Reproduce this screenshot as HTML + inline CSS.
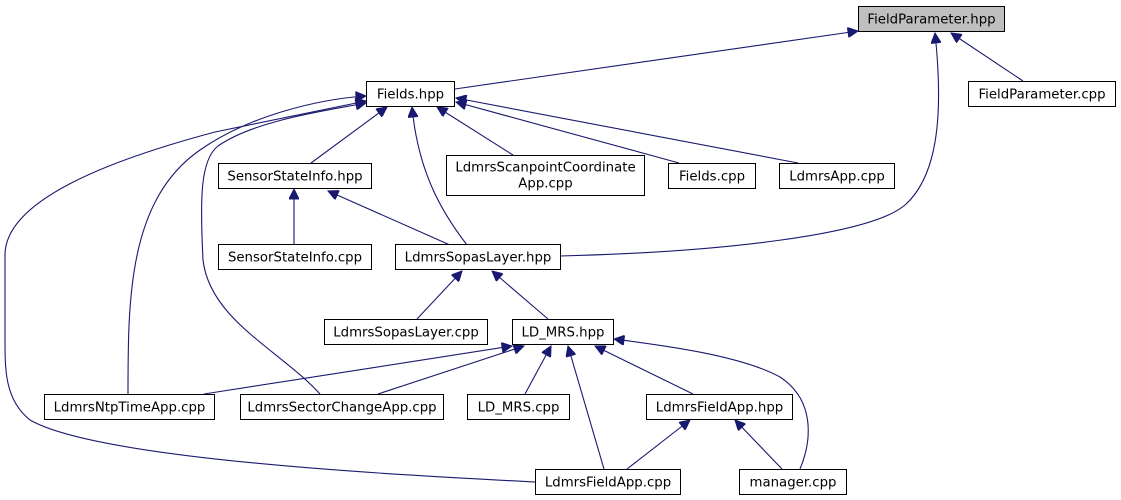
<!DOCTYPE html>
<html><head><meta charset="utf-8"><style>
html,body{margin:0;padding:0;background:#fff;}
svg{display:block;}
text{font-family:"DejaVu Sans","Liberation Sans",sans-serif;font-size:13.3px;fill:#000;}
rect{stroke:#000;stroke-width:1;}
path.e{fill:none;stroke:#191970;stroke-width:1.1;}
</style></head><body>
<svg width="1121" height="500" viewBox="0 0 1121 500" xmlns="http://www.w3.org/2000/svg">
<defs>
<marker id="a" viewBox="0 0 10 10" refX="10" refY="5" markerWidth="12" markerHeight="10" markerUnits="userSpaceOnUse" orient="auto">
<path d="M0,0 L10,5 L0,10 z" fill="#191970" stroke="#191970"/>
</marker>
</defs>
<g marker-end="url(#a)">
<path class="e" d="M455,89 L858,31"/>
<path class="e" d="M1023,81 L951,33"/>
<path class="e" d="M560,256 C720,252 870,235 905,205 C942,172 942,100 935,33"/>
<path class="e" d="M311,163 L387,107"/>
<path class="e" d="M513,155 L437,107"/>
<path class="e" d="M679,163 L456,102"/>
<path class="e" d="M798,163 L456,98"/>
<path class="e" d="M467,245 C440,210 418,170 412,107"/>
<path class="e" d="M294,245 L294,189"/>
<path class="e" d="M450,245 L328,191"/>
<path class="e" d="M417,319 L462,271"/>
<path class="e" d="M548,319 L492,271"/>
<path class="e" d="M128,394 C128,300 128,200 200,150 C250,115 320,99 366,96"/>
<path class="e" d="M320,394 C280,350 210,320 203,260 C200,200 200,160 218,146 C255,120 330,110 366,103"/>
<path class="e" d="M535,482 C400,475 100,460 30,420 C5,400 5,370 5,340 L5,255 C5,200 110,160 215,132 L366,101"/>
<path class="e" d="M204,394 L512,346"/>
<path class="e" d="M378,394 L524,346"/>
<path class="e" d="M525,394 L551,346"/>
<path class="e" d="M604,469 L568,346"/>
<path class="e" d="M693,394 L595,346"/>
<path class="e" d="M800,469 C812,440 815,400 780,377 C740,355 660,345 614,339"/>
<path class="e" d="M627,469 L690,420"/>
<path class="e" d="M782,469 L735,420"/>
</g>
<g>
<rect x="858.5" y="6.5" width="146" height="25" fill="#bfbfbf"/>
<text x="931.5" y="23.5" text-anchor="middle">FieldParameter.hpp</text>
<rect x="366.5" y="81.5" width="88" height="25" fill="#fff"/>
<text x="410.5" y="98.5" text-anchor="middle">Fields.hpp</text>
<rect x="968.5" y="81.5" width="147" height="25" fill="#fff"/>
<text x="1042" y="98.5" text-anchor="middle">FieldParameter.cpp</text>
<rect x="218.5" y="163.5" width="153" height="25" fill="#fff"/>
<text x="295" y="180.5" text-anchor="middle">SensorStateInfo.hpp</text>
<rect x="446.5" y="155.5" width="198" height="40" fill="#fff"/>
<text x="545.5" y="171.5" text-anchor="middle">LdmrsScanpointCoordinate</text>
<text x="545.5" y="187.5" text-anchor="middle">App.cpp</text>
<rect x="668.5" y="163.5" width="87" height="25" fill="#fff"/>
<text x="712" y="180.5" text-anchor="middle">Fields.cpp</text>
<rect x="779.5" y="163.5" width="115" height="25" fill="#fff"/>
<text x="837" y="180.5" text-anchor="middle">LdmrsApp.cpp</text>
<rect x="218.5" y="244.5" width="153" height="25" fill="#fff"/>
<text x="295" y="261.5" text-anchor="middle">SensorStateInfo.cpp</text>
<rect x="395.5" y="244.5" width="165" height="25" fill="#fff"/>
<text x="478" y="261.5" text-anchor="middle">LdmrsSopasLayer.hpp</text>
<rect x="324.5" y="319.5" width="163" height="25" fill="#fff"/>
<text x="406" y="336.5" text-anchor="middle">LdmrsSopasLayer.cpp</text>
<rect x="512.5" y="319.5" width="101" height="25" fill="#fff"/>
<text x="563" y="336.5" text-anchor="middle">LD_MRS.hpp</text>
<rect x="44.5" y="394.5" width="170" height="25" fill="#fff"/>
<text x="129.5" y="411.5" text-anchor="middle">LdmrsNtpTimeApp.cpp</text>
<rect x="240.5" y="394.5" width="203" height="25" fill="#fff"/>
<text x="342" y="411.5" text-anchor="middle">LdmrsSectorChangeApp.cpp</text>
<rect x="467.5" y="394.5" width="102" height="25" fill="#fff"/>
<text x="518.5" y="411.5" text-anchor="middle">LD_MRS.cpp</text>
<rect x="646.5" y="394.5" width="146" height="25" fill="#fff"/>
<text x="719.5" y="411.5" text-anchor="middle">LdmrsFieldApp.hpp</text>
<rect x="535.5" y="469.5" width="145" height="25" fill="#fff"/>
<text x="608" y="486.5" text-anchor="middle">LdmrsFieldApp.cpp</text>
<rect x="739.5" y="469.5" width="107" height="25" fill="#fff"/>
<text x="793" y="486.5" text-anchor="middle">manager.cpp</text>
</g>
</svg>
</body></html>
